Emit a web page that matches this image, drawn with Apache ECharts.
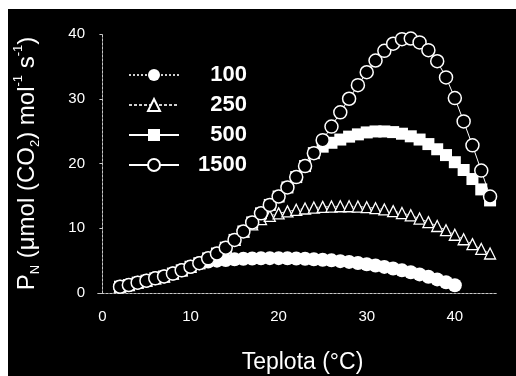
<!DOCTYPE html>
<html>
<head>
<meta charset="utf-8">
<script src="https://cdn.jsdelivr.net/npm/echarts@6/dist/echarts.min.js"></script>
<style>
  html, body { margin: 0; padding: 0; background: #ffffff; }
  #chart { position: absolute; left: 8px; top: 9px; width: 508px; height: 367px; }
</style>
</head>
<body>
<div id="chart"></div>
<script>
// Leaf temperature (°C)
const temps = [2, 3, 4, 5, 6, 7, 8, 9, 10, 11, 12, 13, 14, 15, 16, 17, 18, 19, 20, 21,
               22, 23, 24, 25, 26, 27, 28, 29, 30, 31, 32, 33, 34, 35, 36, 37, 38, 39, 40, 41,
               42, 43, 44];

// Net photosynthetic rate P_N for each CO2 concentration (series names)
const seriesNames = ['100', '250', '500', '1500'];

const pn100 = [0.97, 1.23, 1.6, 1.9, 2.26, 2.55, 3.0, 3.5, 4.05, 4.6,
               4.85, 5.0, 5.1, 5.2, 5.28, 5.33, 5.37, 5.38, 5.38, 5.36,
               5.33, 5.28, 5.22, 5.14, 5.04, 4.92, 4.8, 4.63, 4.45, 4.25,
               4.03, 3.78, 3.5, 3.2, 2.87, 2.5, 2.1, 1.67, 1.2];

const pn250 = [0.97, 1.23, 1.6, 1.9, 2.26, 2.55, 3.0, 3.5, 4.05, 4.6,
               5.35, 6.1, 7.0, 8.2, 9.5, 10.6, 11.4, 11.9, 12.3, 12.6,
               12.85, 13.05, 13.2, 13.3, 13.35, 13.4, 13.4, 13.35, 13.25, 13.1,
               12.9, 12.65, 12.35, 12.0, 11.5, 10.95, 10.35, 9.7, 9.0, 8.3,
               7.55, 6.8, 6.1];

const pn500 = [0.97, 1.23, 1.6, 1.9, 2.26, 2.55, 3.0, 3.5, 4.05, 4.6,
               5.35, 6.1, 7.0, 8.2, 9.5, 10.9, 12.3, 13.6, 14.9, 16.3,
               17.9, 19.6, 21.6, 22.6, 23.2, 23.7, 24.15, 24.5, 24.8, 24.95,
               24.95, 24.85, 24.6, 24.2, 23.7, 23.0, 22.2, 21.3, 20.2, 19.0,
               17.6, 16.0, 14.3];

const pn1500 = [0.97, 1.23, 1.6, 1.9, 2.26, 2.55, 3.0, 3.5, 4.05, 4.6,
                5.35, 6.1, 7.0, 8.2, 9.5, 10.9, 12.3, 13.6, 14.9, 16.3,
                17.9, 19.6, 21.6, 23.6, 25.7, 27.9, 30.0, 32.1, 34.1, 35.9,
                37.4, 38.5, 39.2, 39.3, 38.7, 37.5, 35.8, 33.3, 30.1, 26.5,
                22.8, 18.9, 14.9];

// Axis tick labels
const xTicks = [0, 10, 20, 30, 40];
const yTicks = [0, 10, 20, 30, 40];

function pairs(values) {
  return values.map((v, i) => [temps[i], v]);
}

const FONT = '"Liberation Sans", Arial, Helvetica, sans-serif';
const frameLine = { show: true, lineStyle: { color: '#c8c8c8', width: 1, type: [2, 2] } };

const chart = echarts.init(document.getElementById('chart'), null, { renderer: 'canvas' });

chart.setOption({
  backgroundColor: '#000000',
  animation: false,
  textStyle: { fontFamily: FONT },
  grid: { left: 90, top: 25, width: 400, height: 259, containLabel: false, outerBoundsMode: 'none' },
  legend: {
    orient: 'vertical',
    left: 115,
    top: 50,
    itemWidth: 50,
    itemHeight: 15,
    itemGap: 8,
    data: seriesNames,
    formatter: '{n|{name}}',
    textStyle: {
      color: '#ffffff',
      rich: {
        n: { width: 63, align: 'right', fontSize: 22, fontWeight: 'bold', lineHeight: 22,
             color: '#ffffff', fontFamily: FONT }
      }
    }
  },
  xAxis: [{
    type: 'value',
    min: -0.5,
    max: 44.9,
    name: 'Teplota (°C)',
    nameLocation: 'middle',
    nameGap: 58,
    nameTextStyle: { color: '#ffffff', fontSize: 23, fontFamily: FONT, padding: [0, 0, 0, 9] },
    axisLine: frameLine,
    axisTick: { show: false },
    splitLine: { show: false },
    axisLabel: { color: '#ffffff', fontSize: 15, margin: 16, customValues: xTicks, fontFamily: FONT }
  }, {
    type: 'value',
    position: 'top',
    min: -0.5,
    max: 44.9,
    axisLine: frameLine,
    axisTick: { show: false },
    axisLabel: { show: false },
    splitLine: { show: false }
  }],
  yAxis: [{
    type: 'value',
    min: 0,
    max: 40,
    interval: 10,
    name: '{t|P}{s|N}{t| (μmol (CO}{s|2}{t|) mol}{p|-1}{t| s}{p|-1}{t|)}',
    nameLocation: 'middle',
    nameRotate: 90,
    nameGap: 56,
    nameTextStyle: {
      color: '#ffffff',
      fontSize: 24,
      fontFamily: FONT,
      rich: {
        t: { fontSize: 24, lineHeight: 30, color: '#ffffff', fontFamily: FONT },
        s: { fontSize: 13, lineHeight: 13, verticalAlign: 'bottom', color: '#ffffff', fontFamily: FONT },
        p: { fontSize: 13, lineHeight: 13, verticalAlign: 'top', color: '#ffffff', fontFamily: FONT }
      }
    },
    axisLine: frameLine,
    axisTick: { show: true, length: 3, lineStyle: { color: '#c8c8c8' } },
    splitLine: { show: false },
    axisLabel: { color: '#ffffff', fontSize: 15, margin: 13, customValues: yTicks, fontFamily: FONT }
  }, {
    type: 'value',
    position: 'right',
    min: 0,
    max: 40,
    interval: 10,
    axisLine: frameLine,
    axisTick: { show: false },
    axisLabel: { show: false },
    splitLine: { show: false }
  }],
  series: [{
    name: '100',
    type: 'line',
    data: pairs(pn100),
    symbol: 'circle',
    symbolSize: 14,
    showAllSymbol: true,
    itemStyle: { color: '#ffffff' },
    lineStyle: { color: '#d0d0d0', width: 1, type: [2, 2] }
  }, {
    name: '250',
    type: 'line',
    data: pairs(pn250),
    symbol: 'triangle',
    symbolSize: 11,
    showAllSymbol: true,
    itemStyle: { color: '#000000', borderColor: '#ffffff', borderWidth: 1.3 },
    lineStyle: { color: '#d0d0d0', width: 1, type: [3, 2] }
  }, {
    name: '500',
    type: 'line',
    data: pairs(pn500),
    symbol: 'rect',
    symbolSize: 12,
    showAllSymbol: true,
    itemStyle: { color: '#ffffff' },
    lineStyle: { color: '#ffffff', width: 1.5 }
  }, {
    name: '1500',
    type: 'line',
    data: pairs(pn1500),
    symbol: 'circle',
    symbolSize: 13,
    showAllSymbol: true,
    itemStyle: { color: '#000000', borderColor: '#ffffff', borderWidth: 1.5 },
    lineStyle: { color: '#ffffff', width: 1 }
  }]
});
</script>
</body>
</html>
